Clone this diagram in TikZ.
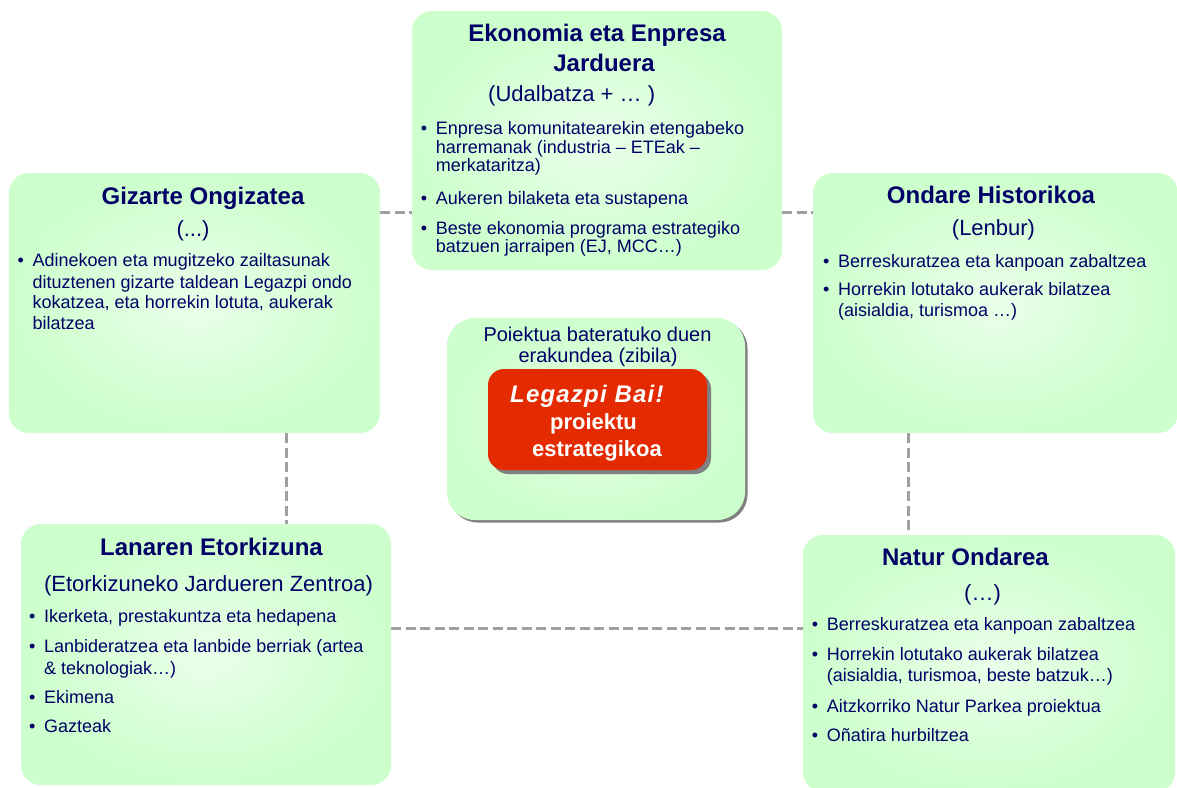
\documentclass[tikz,border=0pt]{standalone}
\usepackage{fontspec}
\setmainfont{Liberation Sans}
\usetikzlibrary{backgrounds}
\definecolor{navy}{RGB}{0,0,102}
\definecolor{boxedge}{RGB}{204,255,204}
\definecolor{boxmid}{RGB}{234,255,234}
\definecolor{redbox}{RGB}{227,42,0}
\definecolor{conngray}{RGB}{160,160,160}
\definecolor{shadowgray}{RGB}{128,128,128}
\newcommand\fbody{\fontsize{18}{18}\selectfont}
\newcommand\fsub{\fontsize{22}{22}\selectfont}
\newcommand\ftitle{\fontsize{24}{24}\selectfont\bfseries}
\newcommand\fcen{\fontsize{20}{20}\selectfont}
\newcommand\fred{\fontsize{22}{22}\selectfont\bfseries}
\newcommand\bul{\makebox[15pt][l]{•}}
\tikzset{
  box/.style={shading=radial, inner color=boxmid, outer color=boxedge, rounded corners=20pt, draw=none, inner sep=0},
  tx/.style={inner sep=0, text=navy, anchor=base west, font=\fbody},
  ttl/.style={inner sep=0, text=navy, anchor=base, font=\ftitle},
  sub/.style={inner sep=0, text=navy, anchor=base, font=\fsub},
  cen/.style={inner sep=0, text=navy, anchor=base, font=\fcen},
  redtx/.style={inner sep=0, text=white, anchor=base, font=\fred},
  conn/.style={draw=conngray, line width=3pt, dash pattern=on 10pt off 4.5pt},
}
\begin{document}
\begin{tikzpicture}[x=1pt,y=-1pt]
\useasboundingbox (0,0) rectangle (1177,787);
% boxes
\node[box, minimum width=370pt, minimum height=259pt] (eko) at (597,140.5) {};
\node[box, minimum width=371pt, minimum height=260pt] (giz) at (194.5,303) {};
\node[box, minimum width=365pt, minimum height=260pt] (ond) at (995.5,303) {};
\node[box, minimum width=370pt, minimum height=261pt] (lan) at (206,654.5) {};
\node[box, minimum width=372pt, minimum height=257pt] (nat) at (989,663.5) {};
\node[fill=shadowgray, rounded corners=28pt, minimum width=298pt, minimum height=202pt, inner sep=0] (censh) at (598.5,421.5) {};
\node[box, rounded corners=28pt, minimum width=298pt, minimum height=202pt] (cbox) at (596,419) {};
\node[fill=shadowgray, rounded corners=16pt, minimum width=219pt, minimum height=101pt, inner sep=0] (redsh) at (601.5,423.5) {};
\node[fill=redbox, rounded corners=16pt, minimum width=219pt, minimum height=101pt, inner sep=0] (red) at (597.5,419.5) {};
% connectors
\begin{scope}[on background layer]
\draw[conn] (giz.east |- 0,212) -- (eko.west |- 0,212);
\draw[conn] (eko.east |- 0,212) -- (ond.west |- 0,212);
\draw[conn] (giz.south -| 286,0) -- (lan.north -| 286,0);
\draw[conn] (ond.south -| 908,0) -- (nat.north -| 908,0);
\draw[conn] (lan.east |- 0,628) -- (nat.west |- 0,628);
\end{scope}
% Ekonomia
\node[ttl] (e1) at (597,41) {Ekonomia eta Enpresa};
\node[ttl] (e2) at (604,71) {Jarduera};
\node[sub, anchor=base west] (e3) at (488,101) {(Udalbatza + … )};
\node[tx] (e4) at (420.7,134.5) {\bul Enpresa komunitatearekin etengabeko};
\node[tx] (e5) at (435.7,153) {harremanak (industria – ETEak –};
\node[tx] (e6) at (435.7,171.5) {merkataritza)};
\node[tx] (e7) at (420.7,204.5) {\bul Aukeren bilaketa eta sustapena};
\node[tx] (e8) at (420.7,234) {\bul Beste ekonomia programa estrategiko};
\node[tx] (e9) at (435.7,252.5) {batzuen jarraipen (EJ, MCC…)};
% Gizarte
\node[ttl] (g1) at (203,204) {Gizarte Ongizatea};
\node[sub] (g2) at (193,236) {(...)};
\node[tx] (g3) at (17.5,266.7) {\bul Adinekoen eta mugitzeko zailtasunak};
\node[tx] (g4) at (32.5,288) {dituztenen gizarte taldean Legazpi ondo};
\node[tx] (g5) at (32.5,308.5) {kokatzea, eta horrekin lotuta, aukerak};
\node[tx] (g6) at (32.5,329.5) {bilatzea};
% Ondare
\node[ttl] (o1) at (991,203) {Ondare Historikoa};
\node[sub] (o2) at (993.5,235) {(Lenbur)};
\node[tx] (o3) at (823,267) {\bul Berreskuratzea eta kanpoan zabaltzea};
\node[tx] (o4) at (823,295) {\bul Horrekin lotutako aukerak bilatzea};
\node[tx] (o5) at (838,316.5) {(aisialdia, turismoa …)};
% Center
\node[cen] (c1) at (597.5,341) {Poiektua bateratuko duen};
\node[cen] (c2) at (598,362) {erakundea (zibila)};
\node[redtx, anchor=base west] (r1) at (510,402) {\fontsize{24}{24}\selectfont\itshape\addfontfeature{LetterSpace=5}Legazpi Bai!};
\node[redtx] (r2) at (593.5,429) {proiektu};
\node[redtx] (r3) at (597,456) {estrategikoa};
% Lanaren
\node[ttl] (l1) at (211.5,555) {Lanaren Etorkizuna};
\node[sub] (l2) at (208.5,591.7) {(Etorkizuneko Jardueren Zentroa)};
\node[tx] (l3) at (29,622.7) {\bul Ikerketa, prestakuntza eta hedapena};
\node[tx] (l4) at (29,652.7) {\bul Lanbideratzea eta lanbide berriak (artea};
\node[tx] (l5) at (44,674) {\& teknologiak…)};
\node[tx] (l6) at (29,703.3) {\bul Ekimena};
\node[tx] (l7) at (29,732.7) {\bul Gazteak};
% Natur
\node[ttl] (n1) at (965.5,565) {Natur Ondarea};
\node[sub] (n2) at (982.5,600) {(…)};
\node[tx] (n3) at (811.7,630) {\bul Berreskuratzea eta kanpoan zabaltzea};
\node[tx] (n4) at (811.7,660) {\bul Horrekin lotutako aukerak bilatzea};
\node[tx] (n5) at (826.7,681) {(aisialdia, turismoa, beste batzuk…)};
\node[tx] (n6) at (811.7,712.7) {\bul Aitzkorriko Natur Parkea proiektua};
\node[tx] (n7) at (811.7,741.7) {\bul Oñatira hurbiltzea};
\end{tikzpicture}
\end{document}
